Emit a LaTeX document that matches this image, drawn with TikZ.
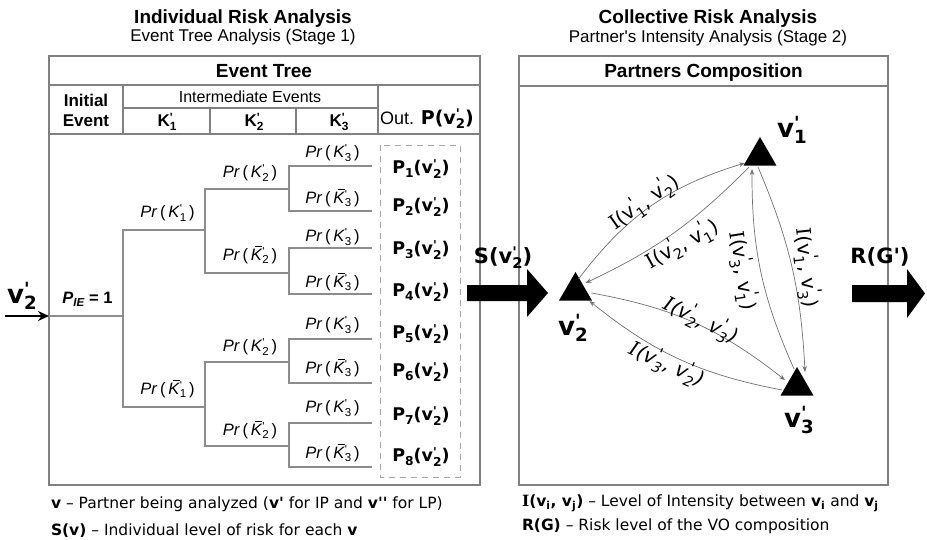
\documentclass[tikz,border=0pt]{standalone}
\usepackage{fontspec}
\usepackage{graphicx}
\setmainfont{Liberation Sans}
\newfontfamily\dv{DejaVu Sans}
\newfontfamily\dvs{DejaVu Serif}
\usetikzlibrary{arrows.meta,shapes.geometric}
\definecolor{boxgray}{HTML}{808080}
\definecolor{treegray}{HTML}{8C8C8C}
\definecolor{edgegray}{HTML}{707070}
\definecolor{dashgray}{HTML}{A6A6A6}
\newcommand\fs[1]{\fontsize{#1}{#1}\selectfont}
\newcommand\pq{\textquotesingle}
\newcommand\II{{\dvs I}}
\newcommand\ps[2]{\leavevmode\rlap{\raisebox{0.5ex}{\scalebox{0.7}{#1}}}\raisebox{-0.45ex}{\scalebox{0.7}{#2}}}
\newcommand\pe[2]{\leavevmode\rlap{\raisebox{0.7ex}{\scalebox{0.8}{#1}}}\raisebox{-0.5ex}{\scalebox{0.72}{#2}}\kern0.05em}
\newcommand\Kb{\rlap{\kern0.25em\rule[0.8em]{0.45em}{0.05em}}\textit{K}}
\newcommand\PrK[2]{\textit{Pr}\,(\,#1\ps{\pq}{#2}\,)}
\newcommand\Pv[1]{P\raisebox{-0.4ex}{\scalebox{0.7}{#1}}(v\ps{\pq}{2})}
\newcommand\Iv[2]{\II(v\pe{\pq}{#1}, v\pe{\pq}{#2})}
\begin{document}
\begin{tikzpicture}[x=1pt,y=1pt,
 box/.style={draw=boxgray,line width=1.1pt},
 tree/.style={draw=treegray,line width=1.1pt},
 edge/.style={draw=edgegray,line width=0.7pt,-{Stealth[length=6pt,width=4.5pt]}},
 tri/.style={regular polygon,regular polygon sides=3,fill=black,draw=none,inner sep=0pt,minimum size=38pt},
 lbl/.style={inner sep=0pt,outer sep=0pt},
 prl/.style={lbl,font=\fs{16.5}},
 pout/.style={lbl,font=\dv\bfseries\fs{17.5}},
 elbl/.style={lbl,font=\dv\fs{20}},
 vlbl/.style={lbl,anchor=base,font=\dv\bfseries\fs{26}},
 note/.style={lbl,anchor=base west,font=\dv\fs{15.5}},
 bigarrow/.style={fill=black}
]
\useasboundingbox (0,0) rectangle (927,-539);

% titles
\node[lbl,anchor=base] (t1) at (243,-23) {\fs{19}\bfseries Individual Risk Analysis};
\node[lbl,anchor=base] (t1s) at (243,-41.5) {\fs{17}Event Tree Analysis (Stage 1)};
\node[lbl,anchor=base] (t2) at (708,-23) {\fs{19}\bfseries Collective Risk Analysis};
\node[lbl,anchor=base] (t2s) at (708,-42) {\fs{17}Partner\pq s Intensity Analysis (Stage 2)};

% left table
\draw[box] (49,-56) rectangle (480,-485);
\draw[box] (49,-85) -- (480,-85);
\draw[box] (49,-134) -- (480,-134);
\draw[box] (123,-85) -- (123,-134);
\draw[box] (378,-85) -- (378,-134);
\draw[box] (123,-108) -- (378,-108);
\draw[box] (210,-108) -- (210,-134);
\draw[box] (296,-108) -- (296,-134);
\node[lbl,anchor=base] (eth) at (264,-77) {\fs{19}\bfseries Event Tree};
\node[lbl,anchor=base] (ini) at (86,-106) {\fs{17}\bfseries Initial};
\node[lbl,anchor=base] (ine) at (86,-126) {\fs{17}\bfseries Event};
\node[lbl,anchor=base] (ime) at (250,-102) {\fs{16}Intermediate Events};
\node[lbl,anchor=base] (k1) at (167,-126) {\fs{17}\bfseries K\ps{\pq}{1}};
\node[lbl,anchor=base] (k2) at (254,-126) {\fs{17}\bfseries K\ps{\pq}{2}};
\node[lbl,anchor=base] (k3) at (339,-126) {\fs{17}\bfseries K\ps{\pq}{3}};
\node[lbl,anchor=base] (out) at (427,-124) {\fs{18}Out. {\dv\bfseries\fs{19}P(v\ps{\pq}{2})}};

% right box
\draw[box] (519,-56) rectangle (888,-485);
\draw[box] (519,-86) -- (888,-86);
\node[lbl,anchor=base] (pch) at (703.5,-77) {\fs{19}\bfseries Partners Composition};

% tree
\coordinate (in) at (5,-316);
\coordinate (r0) at (49,-316);
\coordinate (r1) at (123,-316);
\coordinate (a) at (205,-230);
\coordinate (b) at (205,-407);
\coordinate (aa) at (289,-189);
\coordinate (ab) at (289,-273);
\coordinate (ba) at (289,-362);
\coordinate (bb) at (289,-446);
\coordinate (l1) at (372,-166);
\coordinate (l2) at (372,-211);
\coordinate (l3) at (372,-248);
\coordinate (l4) at (372,-294);
\coordinate (l5) at (372,-339);
\coordinate (l6) at (372,-383);
\coordinate (l7) at (372,-423);
\coordinate (l8) at (372,-467);
\draw[tree] (r0) -- (r1);
\draw[tree] (a) -| (r1) |- (b);
\draw[tree] (aa) -| (a) |- (ab);
\draw[tree] (ba) -| (b) |- (bb);
\draw[tree] (l1) -| (aa) |- (l2);
\draw[tree] (l3) -| (ab) |- (l4);
\draw[tree] (l5) -| (ba) |- (l6);
\draw[tree] (l7) -| (bb) |- (l8);
\draw[line width=2pt,-{Stealth[length=11pt,width=10pt]}] (in) -- (r0);
\node[vlbl] (vin) at (22,-303) {v\ps{\pq}{2}};
\node[lbl,anchor=base] (pie) at (87.5,-303) {\fs{16.5}\bfseries\textit{P}\raisebox{-0.4ex}{\scalebox{0.7}{\textit{IE}}} = 1};

\node[prl] (p1) at (167.5,-213) {\PrK{\textit{K}}{1}};
\node[prl] (p1b) at (167.5,-389) {\PrK{\Kb}{1}};
\node[prl] (p2a) at (250,-173) {\PrK{\textit{K}}{2}};
\node[prl] (p2b) at (250,-255) {\PrK{\Kb}{2}};
\node[prl] (p2c) at (250,-347) {\PrK{\textit{K}}{2}};
\node[prl] (p2d) at (250,-430) {\PrK{\Kb}{2}};
\node[prl] (p3a) at (332.5,-153) {\PrK{\textit{K}}{3}};
\node[prl] (p3b) at (332.5,-198) {\PrK{\Kb}{3}};
\node[prl] (p3c) at (332.5,-237) {\PrK{\textit{K}}{3}};
\node[prl] (p3d) at (332.5,-282) {\PrK{\Kb}{3}};
\node[prl] (p3e) at (332.5,-325) {\PrK{\textit{K}}{3}};
\node[prl] (p3f) at (332.5,-368) {\PrK{\Kb}{3}};
\node[prl] (p3g) at (332.5,-408) {\PrK{\textit{K}}{3}};
\node[prl] (p3h) at (332.5,-453) {\PrK{\Kb}{3}};

% outputs
\draw[draw=dashgray,line width=1pt,dash pattern=on 6pt off 5pt] (380,-145) rectangle (460,-477);
\node[pout] (o1) at (421,-169) {\Pv{1}};
\node[pout] (o2) at (421,-207) {\Pv{2}};
\node[pout] (o3) at (421,-250) {\Pv{3}};
\node[pout] (o4) at (421,-292) {\Pv{4}};
\node[pout] (o5) at (421,-334) {\Pv{5}};
\node[pout] (o6) at (421,-372) {\Pv{6}};
\node[pout] (o7) at (421,-416) {\Pv{7}};
\node[pout] (o8) at (421,-457) {\Pv{8}};

% big arrows
\fill[bigarrow] (467,-285) -- (527,-285) -- (527,-269) -- (548,-293) -- (527,-317) -- (527,-301) -- (467,-301) -- cycle;
\node[lbl,anchor=base] (sv) at (503,-263) {\dv\bfseries\fs{21}S(v\ps{\pq}{2})};
\fill[bigarrow] (852,-285) -- (907,-285) -- (907,-269) -- (925,-293.5) -- (907,-318) -- (907,-302) -- (852,-302) -- cycle;
\node[lbl,anchor=base] (rg) at (880,-263) {\dv\bfseries\fs{21}R(G\pq)};

% partners
\node[tri] (v1) at (760,-156) {};
\node[tri] (v2) at (575.5,-291) {};
\node[tri] (v3) at (797,-386) {};
\node[vlbl] (v1l) at (792,-137) {v\ps{\pq}{1}};
\node[vlbl] (v2l) at (573,-335) {v\ps{\pq}{2}};
\node[vlbl] (v3l) at (799,-427) {v\ps{\pq}{3}};

\draw[edge] ([shift={(3,12)}]v2.center) to[bend left=18] ([shift={(-15,-7)}]v1.center);
\draw[edge] ([shift={(-11,-11)}]v1.center) to[bend left=10] ([shift={(10,8)}]v2.center);
\draw[edge] ([shift={(-3,17)}]v3.center) to[bend left=12] ([shift={(-8,-13)}]v1.center);
\draw[edge] ([shift={(-2,-11)}]v1.center) to[bend left=10] ([shift={(8,14)}]v3.center);
\draw[edge] ([shift={(16,-2)}]v2.center) to[bend left=14] ([shift={(-12,6)}]v3.center);
\draw[edge] ([shift={(-15,-4)}]v3.center) to[bend left=14] ([shift={(14,-10)}]v2.center);

\node[elbl,rotate=35] (ea) at (644,-202) {\Iv{1}{2}};
\node[elbl,rotate=29] (eb) at (682,-244) {\Iv{2}{1}};
\node[elbl,rotate=-81] (ec) at (743,-271) {\Iv{3}{1}};
\node[elbl,rotate=-84] (ed) at (807,-268) {\Iv{1}{3}};
\node[elbl,rotate=-26] (ee) at (701,-320) {\itshape\Iv{2}{3}};
\node[elbl,rotate=-24] (ef) at (667,-364) {\itshape\Iv{3}{2}};

% notes
\node[note] (n1) at (51,-508) {\textbf{v} – Partner being analyzed (\textbf{v\pq} for IP and \textbf{v\pq\pq} for LP)};
\node[note] (n2) at (51,-535) {\textbf{S(v)} – Individual level of risk for each \textbf{v}};
\node[note] (n3) at (522,-506) {\textbf{\II(v\textsubscript{i}, v\textsubscript{j})} – Level of Intensity between \textbf{v\textsubscript{i}} and \textbf{v\textsubscript{j}}};
\node[note] (n4) at (522,-530) {\textbf{R(G)} – Risk level of the VO composition};
\end{tikzpicture}
\end{document}
